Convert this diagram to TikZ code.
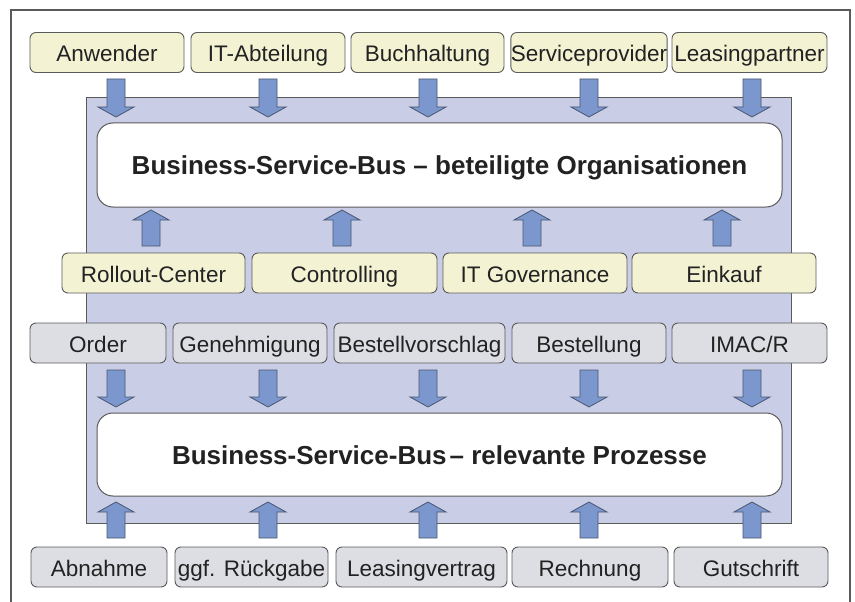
\documentclass[tikz,border=0pt]{standalone}
\usepackage{fontspec}
\setmainfont{Liberation Sans}
\definecolor{framegray}{HTML}{5A5A5A}
\definecolor{panelblue}{HTML}{C9CDE6}
\definecolor{creamfill}{HTML}{F3F3D4}
\definecolor{grayfill}{HTML}{DCDEE3}
\definecolor{arrowblue}{HTML}{7B97CD}
\definecolor{arrowedge}{HTML}{4A5670}
\definecolor{textdark}{HTML}{222222}
\tikzset{
  orgbox/.style={draw=framegray, line width=0.9pt, rounded corners=6pt, fill=creamfill,
    inner sep=0pt, text=textdark, font=\fontsize{22.5}{24}\selectfont, minimum height=40pt,
    text height=21pt, text depth=3pt},
  procbox/.style={orgbox, fill=grayfill},
  busbox/.style={draw=framegray, line width=1pt, rounded corners=16pt, fill=white, inner sep=0pt,
    text=textdark, font=\bfseries\fontsize{26}{28}\selectfont, text height=24pt, text depth=4pt},
  blockarrow/.style={draw=arrowedge, line width=0.8pt, fill=arrowblue, line join=miter},
}
\newcommand\blockarr[4]{% x, tail y, head-base y, tip y
  \draw[blockarrow] (#1-9,#2) -- (#1+9,#2) -- (#1+9,#3) -- (#1+18,#3) -- (#1,#4)
    -- (#1-18,#3) -- (#1-9,#3) -- cycle;}
\begin{document}
\begin{tikzpicture}[x=1pt,y=-1pt]
\useasboundingbox (0,0) rectangle (855,602);
% outer frame (bottom edge outside the picture)
\draw[framegray, line width=1.5pt] (11,606) -- (11,10) -- (850,10) -- (850,606);
% blue panel
\node[draw=framegray, line width=1pt, fill=panelblue, minimum width=705pt, minimum height=425pt,
  inner sep=0pt] (panel) at (438.5,310.5) {};
% bus boxes
\node[busbox, minimum width=685pt, minimum height=84pt] (bus1) at (439.5,165) {Business-Service-Bus -- beteiligte Organisationen};
\node[busbox, minimum width=685pt, minimum height=83pt] (bus2) at (439.5,454.5) {Business-Service-Bus\hspace{3pt}-- relevante Prozesse};
% top organisations
\node[orgbox, minimum width=154pt] (o1) at (107,52.5) {Anwender};
\node[orgbox, minimum width=154pt] (o2) at (268,52.5) {IT-Abteilung};
\node[orgbox, minimum width=153pt] (o3) at (427.5,52.5) {Buchhaltung};
\node[orgbox, minimum width=156pt] (o4) at (589,52.5) {Serviceprovider};
\node[orgbox, minimum width=155pt] (o5) at (749.5,52.5) {Leasingpartner};
% middle organisations
\node[orgbox, minimum width=183pt] (m1) at (153.5,273) {Rollout-Center};
\node[orgbox, minimum width=185pt] (m2) at (344.5,273) {Controlling};
\node[orgbox, minimum width=184pt] (m3) at (535,273) {IT Governance};
\node[orgbox, minimum width=184pt] (m4) at (724,273) {Einkauf};
% processes
\node[procbox, minimum width=136pt] (p1) at (98,343) {Order};
\node[procbox, minimum width=154pt] (p2) at (250,343) {Genehmigung};
\node[procbox, minimum width=171pt] (p3) at (419.5,343) {Bestellvorschlag};
\node[procbox, minimum width=154pt] (p4) at (589,343) {Bestellung};
\node[procbox, minimum width=155pt] (p5) at (749.5,343) {IMAC/R};
% bottom processes
\node[procbox, minimum width=136pt] (b1) at (99,567) {Abnahme};
\node[procbox, minimum width=153pt] (b2) at (251.5,567) {ggf. Rückgabe};
\node[procbox, minimum width=171pt] (b3) at (421.5,567) {Leasingvertrag};
\node[procbox, minimum width=156pt] (b4) at (590,567) {Rechnung};
\node[procbox, minimum width=154pt] (b5) at (751,567) {Gutschrift};
% arrows: top row down into bus 1
\foreach \x in {116,268,428,589,752} {\blockarr{\x}{79}{107}{117}}
% arrows: middle row up into bus 1
\foreach \x in {151,342,532,722} {\blockarr{\x}{246}{220}{210}}
% arrows: processes down into bus 2
\foreach \x in {116,268,428,589,752} {\blockarr{\x}{370}{397}{407}}
% arrows: bottom row up into bus 2
\foreach \x in {116,268,428,589,752} {\blockarr{\x}{538}{512}{502}}
\end{tikzpicture}
\end{document}
